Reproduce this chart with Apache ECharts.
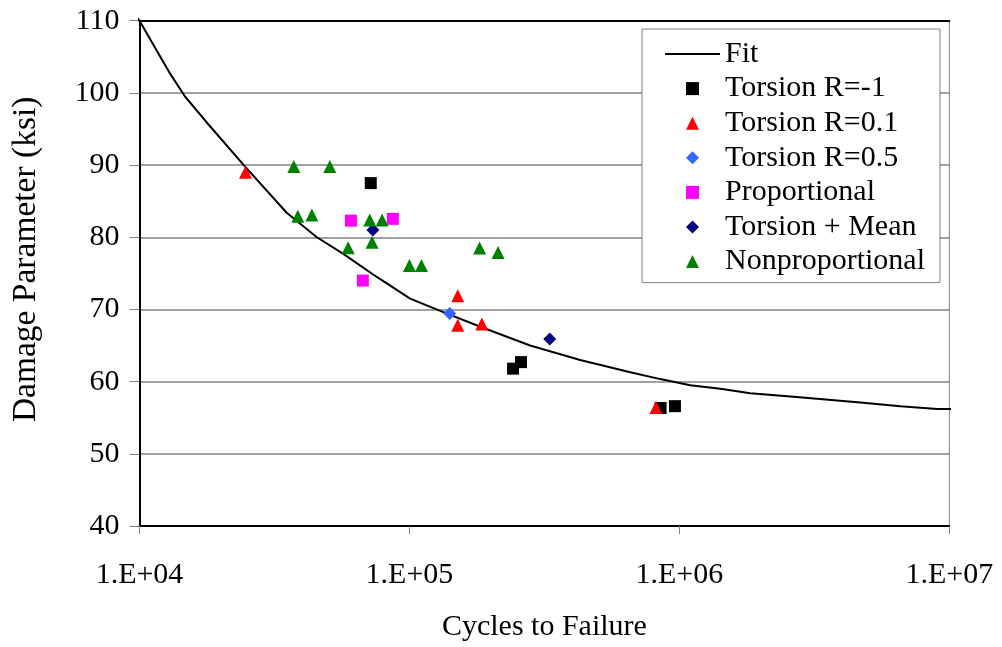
<!DOCTYPE html>
<html>
<head>
<meta charset="utf-8">
<script src="https://cdn.jsdelivr.net/npm/echarts@6/dist/echarts.min.js"></script>
<style>
  html, body { margin: 0; padding: 0; background: #ffffff; }
  #chart { width: 1002px; height: 647px; }
</style>
</head>
<body>
<div id="chart"></div>
<script>
// Fitted damage-parameter life curve
const fitCycles = [9620, 10000, 12970, 14740, 17750, 24200, 35100, 45400, 56900, 75700,
  100600, 130000, 183000, 280000, 429000, 658000, 850000, 1098000, 1418000, 1830000,
  2650000, 4680000, 6590000, 9010000, 10780000];
const fitDamage = [110.8, 110.0, 102.7, 99.5, 95.9, 90.1, 83.4, 80.0, 77.7, 74.5,
  71.5, 69.8, 67.6, 65.0, 63.0, 61.3, 60.35, 59.5, 59.0, 58.4,
  57.9, 57.1, 56.6, 56.2, 56.2];

// Test results: [cycles to failure, damage parameter (ksi)]
const torsionNeg1 = [[71900, 87.5], [259000, 62.7], [242000, 61.8], [852000, 56.35], [963000, 56.6]];
const torsion01 = [[24700, 89.0], [151000, 71.9], [151000, 67.8], [185500, 68.0], [819000, 56.4]];
const torsion05 = [[141000, 69.45]];
const proportional = [[60700, 82.3], [86800, 82.55], [67200, 74.0]];
const torsionMean = [[73200, 81.0], [331000, 65.9]];
const nonproportional = [[37300, 89.8], [50700, 89.8], [38600, 82.9], [43500, 83.1], [71300, 82.4],
  [79200, 82.4], [72700, 79.3], [59300, 78.55], [100000, 76.1], [110800, 76.1],
  [182000, 78.5], [213000, 77.9]];

const xTickLabels = ['1.E+04', '1.E+05', '1.E+06', '1.E+07'];

const FONT = '"Liberation Serif", "Times New Roman", serif';

// Legend glyphs as paths so they keep their aspect inside the wide icon box
const ICON_LINE = 'path://M0,0L55,0L55,2L0,2Z';
const ICON_SQUARE = 'path://M0,0L1,0L1,1L0,1Z';
const ICON_TRIANGLE = 'path://M0.5,0L1,1L0,1Z';
const ICON_DIAMOND = 'path://M0.5,0L1,0.5L0.5,1L0,0.5Z';

const chart = echarts.init(document.getElementById('chart'), null, { renderer: 'canvas' });

function scatter(name, data, symbol, size, color) {
  return {
    name: name, type: 'scatter', data: data, symbol: symbol, symbolSize: size,
    itemStyle: { color: color, opacity: 1 }, z: 3
  };
}

const option = {
  backgroundColor: '#ffffff',
  animation: false,
  textStyle: { fontFamily: FONT },
  grid: {
    left: 139.5, right: 52.7, top: 20.7, bottom: 118.5,
    show: true, borderColor: '#808080', borderWidth: 1, backgroundColor: 'transparent'
  },
  legend: {
    orient: 'vertical',
    left: 642, top: 29,
    padding: [10, 15, 6, 23],
    itemWidth: 55, itemHeight: 13, itemGap: 4.6,
    symbolKeepAspect: true,
    backgroundColor: '#ffffff',
    borderColor: '#808080', borderWidth: 1,
    textStyle: { fontFamily: FONT, fontSize: 30, color: '#000', lineHeight: 30 },
    data: [
      { name: 'Fit', icon: ICON_LINE },
      { name: 'Torsion R=-1', icon: ICON_SQUARE },
      { name: 'Torsion R=0.1', icon: ICON_TRIANGLE },
      { name: 'Torsion R=0.5', icon: ICON_DIAMOND },
      { name: 'Proportional', icon: ICON_SQUARE },
      { name: 'Torsion + Mean', icon: ICON_DIAMOND },
      { name: 'Nonproportional', icon: ICON_TRIANGLE }
    ]
  },
  xAxis: [{
    type: 'log', logBase: 10, min: 10000, max: 10000000,
    name: 'Cycles to Failure', nameLocation: 'middle', nameGap: 86,
    nameTextStyle: { fontFamily: FONT, fontSize: 30, color: '#000' },
    axisLine: { lineStyle: { color: '#000', width: 2 } },
    axisTick: { show: true, length: 8, lineStyle: { color: '#808080', width: 1 } },
    splitLine: { show: false },
    minorTick: { show: false },
    axisLabel: {
      fontFamily: FONT, fontSize: 30, color: '#000', margin: 34,
      formatter: function (v) {
        const e = Math.round(Math.log10(v));
        return xTickLabels[e - 4] || '';
      }
    }
  }, {
    type: 'log', logBase: 10, min: 10000, max: 10000000, position: 'top',
    axisLine: { show: true, lineStyle: { color: '#000', width: 2 } },
    axisTick: { show: false }, axisLabel: { show: false }, splitLine: { show: false }
  }],
  yAxis: {
    type: 'value', min: 40, max: 110, interval: 10,
    name: 'Damage Parameter (ksi)', nameLocation: 'middle', nameGap: 96,
    nameTextStyle: { fontFamily: FONT, fontSize: 33.5, color: '#000', padding: [0, 0, 0, 28] },
    axisLine: { show: true, lineStyle: { color: '#000', width: 2 } },
    axisTick: { show: true, length: 10, lineStyle: { color: '#808080', width: 1 } },
    splitLine: { show: true, lineStyle: { color: '#808080', width: 1.5 } },
    axisLabel: { fontFamily: FONT, fontSize: 30, color: '#000', margin: 20 }
  },
  series: [
    {
      name: 'Fit', type: 'line', symbol: 'none', clip: false, z: 2, smooth: false,
      data: fitCycles.map((c, i) => [c, fitDamage[i]]),
      lineStyle: { color: '#000', width: 2 },
      itemStyle: { color: '#000' }
    },
    scatter('Torsion R=-1', torsionNeg1, 'rect', 12, '#000000'),
    scatter('Torsion R=0.1', torsion01, 'triangle', 13, '#ff0000'),
    scatter('Torsion R=0.5', torsion05, 'diamond', 13, '#3366ff'),
    scatter('Proportional', proportional, 'rect', 12, '#ff00ff'),
    scatter('Torsion + Mean', torsionMean, 'diamond', 13, '#000080'),
    scatter('Nonproportional', nonproportional, 'triangle', 13, '#008000')
  ]
};

chart.setOption(option);
</script>
</body>
</html>
